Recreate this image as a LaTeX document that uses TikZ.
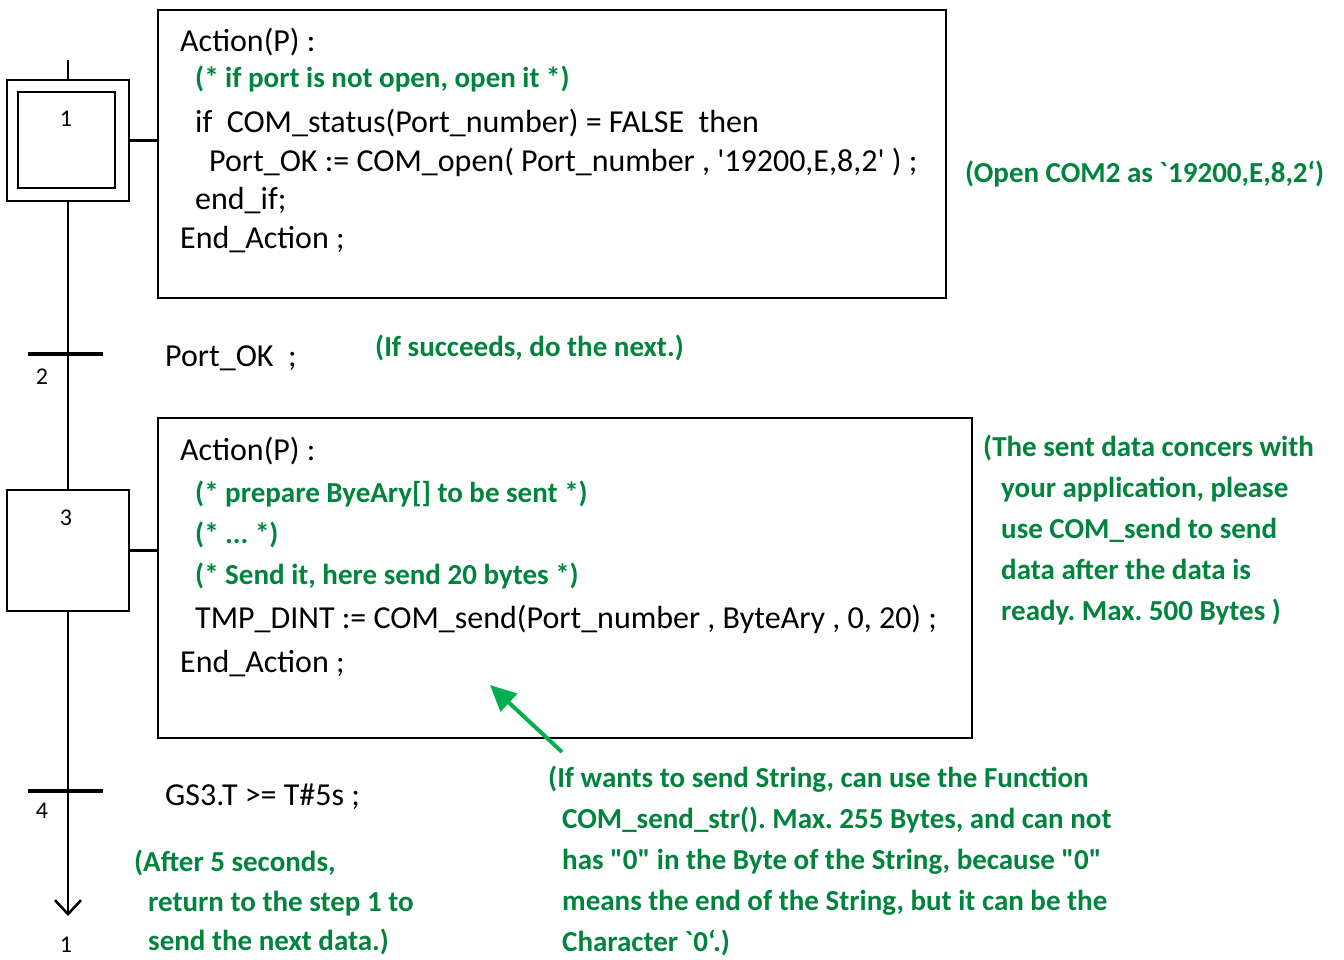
\documentclass[tikz,border=0pt]{standalone}
\usepackage{fontspec}
\setmainfont{Carlito}[Ligatures=TeXOff]
\usetikzlibrary{arrows.meta, positioning, calc}
\definecolor{notegreen}{RGB}{0,132,61}
\definecolor{arrowgreen}{RGB}{0,176,80}
\frenchspacing

\begin{document}
\begin{tikzpicture}[
    x=1pt, y=-1pt,
    % 1. step boxes
    stepbox/.style={
        draw,
        line width=2.5pt,
        minimum width=122pt,
        minimum height=121pt,
        inner sep=0pt
    },
    innerbox/.style={
        draw,
        line width=2.5pt,
        minimum width=97pt,
        minimum height=96pt,
        inner sep=0pt
    },
    % 2. transition bars
    transbar/.style={
        fill=black,
        minimum width=75pt,
        minimum height=4pt,
        inner sep=0pt
    },
    % 3. action boxes
    actbox/.style={
        draw,
        line width=2.5pt,
        inner sep=0pt
    },
    % 4. texts
    codeline/.style={
        anchor=west,
        inner sep=0pt,
        font=\fontsize{32}{38}\selectfont
    },
    greenline/.style={
        anchor=west,
        inner sep=0pt,
        text=notegreen,
        font=\fontsize{29}{41}\selectfont\bfseries
    },
    note/.style={
        anchor=north west,
        inner sep=0pt,
        align=left,
        text=notegreen,
        font=\fontsize{29}{41}\selectfont\bfseries
    },
    stepnum/.style={
        inner sep=0pt,
        font=\fontsize{24}{28}\selectfont
    },
    link/.style={
        line width=2.5pt
    }
]
    \useasboundingbox (0,0) rectangle (1344,959);

    % --- 1. steps and transitions ---
    \node[stepbox] (step1) at (68,140.5) {};
    \node[innerbox] (step1in) at (66.5,140) {};
    \node[stepnum] (num1) at (66,119) {1};

    \node[transbar] (trans2) at (65.5,354) {};
    \node[stepnum] (num2) at (42,377) {2};

    \node[stepbox] (step3) at (68,550.5) {};
    \node[stepnum] (num3) at (66,518) {3};

    \node[transbar] (trans4) at (65.5,791) {};
    \node[stepnum] (num4) at (42,811) {4};

    \node[stepnum] (back1) at (66,945) {1};

    \coordinate (top) at (68,60);
    \coordinate (bottom) at (68,916);

    % --- 2. action boxes ---
    \node[actbox, minimum width=788pt, minimum height=288pt] (act1) at (552,154) {};
    \node[actbox, minimum width=814pt, minimum height=320pt] (act2) at (565,578) {};

    % action 1
    \node[codeline] (a1l1) at (180,42) {Action(P) :};
    \node[greenline] (a1l2) at (195,79) {(* if port is not open, open it *)};
    \node[codeline] (a1l3) at (195,123) {if\ \ COM\_status(Port\_number) = FALSE\ \ then};
    \node[codeline] (a1l4) at (209,162) {Port\_OK := COM\_open( Port\_number , '19200,E,8,2' ) ;};
    \node[codeline] (a1l5) at (195,201) {end\_if;};
    \node[codeline] (a1l6) at (180,240) {End\_Action ;};

    % action 2
    \node[codeline] (a2l1) at (180,451) {Action(P) :};
    \node[greenline] (a2l2) at (195,494) {(* prepare ByeAry[] to be sent *)};
    \node[greenline] (a2l3) at (195,535) {(* ... *)};
    \node[greenline] (a2l4) at (195,576) {(* Send it, here send 20 bytes *)};
    \node[codeline] (a2l5) at (195,619) {TMP\_DINT := COM\_send(Port\_number , ByteAry , 0, 20) ;};
    \node[codeline] (a2l6) at (180,664) {End\_Action ;};

    % transition conditions
    \node[codeline] (cond2) at (165,358) {Port\_OK\ \ ;};
    \node[codeline] (cond4) at (165,797) {GS3.T >= T\#5s ;};

    % --- 3. green notes ---
    \node[greenline] (noteopen) at (965,174) {(Open COM2 as `19200,E,8,2‘)};
    \node[greenline] (notenext) at (375,348) {(If succeeds, do the next.)};
    \node[note] (notesend) at (983,435) {(The sent data concers with\\
        \hspace*{18pt}your application, please\\
        \hspace*{18pt}use COM\_send to send\\
        \hspace*{18pt}data after the data is\\
        \hspace*{18pt}ready. Max. 500 Bytes )};
    \node[note] (notestr) at (548,766) {(If wants to send String, can use the Function\\
        \hspace*{14pt}COM\_send\_str(). Max. 255 Bytes, and can not\\
        \hspace*{14pt}has "0" in the Byte of the String, because "0"\\
        \hspace*{14pt}means the end of the String, but it can be the\\
        \hspace*{14pt}Character `0‘.)};
    \node[note] (noteback) at (134,850) {(After 5 seconds,\\[-1pt]
        \hspace*{14pt}return to the step 1 to\\[-2pt]
        \hspace*{14pt}send the next data.)};

    \coordinate (arrtail) at (562,752);
    \coordinate (arrhead) at (490,685);

    % --- 4. connectors ---
    \draw[link] (top) -- (step1.north);
    \draw[link] (step1.south) -- (step3.north);
    \draw[link, -{Straight Barb[length=14pt, width=26pt]}] (step3.south) -- (bottom);
    \draw[link] (step1.east) -- (step1.east -| act1.west);
    \draw[link] (step3.east) -- (step3.east -| act2.west);
    \draw[line width=4pt, arrowgreen, -{Triangle[length=26pt, width=24pt]}] (arrtail) -- (arrhead);

\end{tikzpicture}
\end{document}
